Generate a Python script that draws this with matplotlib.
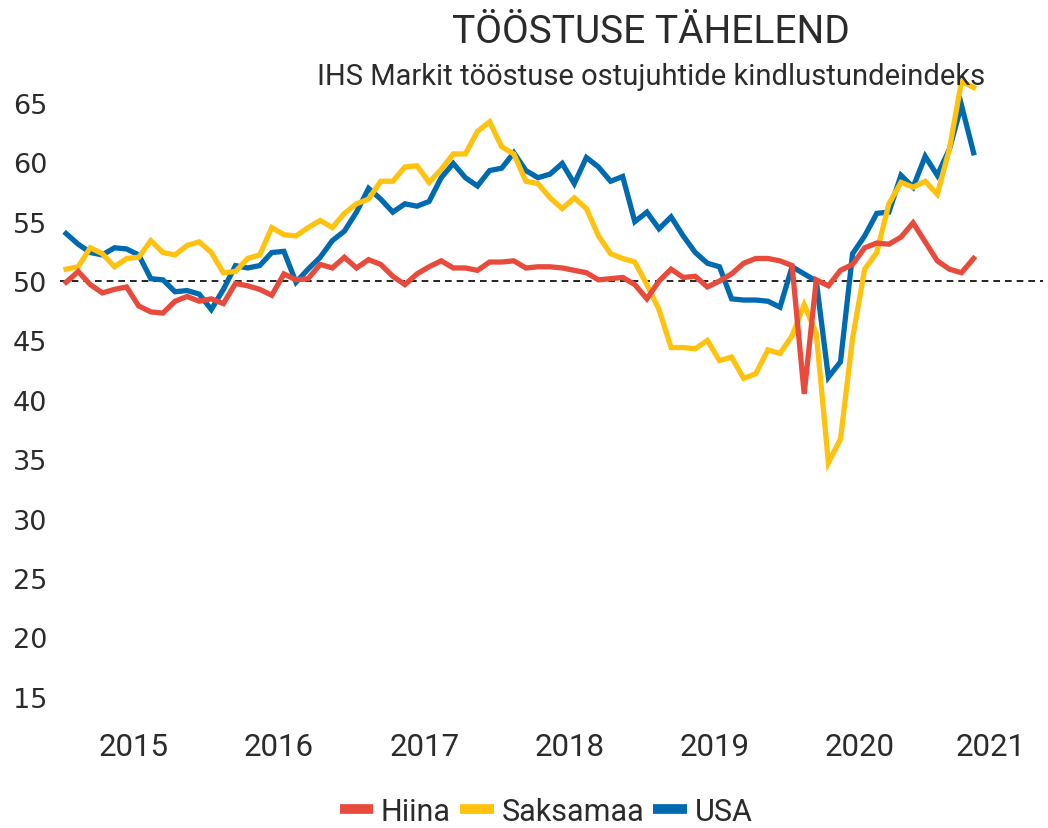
import matplotlib
matplotlib.use("Agg")
import matplotlib.pyplot as plt
from matplotlib.lines import Line2D
import numpy as np
import pandas as pd

# monthly values, Jan 2015 .. Apr 2021
months = pd.period_range("2015-01", "2021-04", freq="M")

hiina = [49.9, 50.8, 49.7, 49.0, 49.3, 49.5, 47.9, 47.4, 47.3, 48.3, 48.7, 48.3,
         48.5, 48.1, 49.8, 49.6, 49.3, 48.8, 50.6, 50.1, 50.2, 51.4, 51.1, 52.0,
         51.1, 51.8, 51.4, 50.4, 49.7, 50.6, 51.2, 51.7, 51.1, 51.1, 50.9, 51.6,
         51.6, 51.7, 51.1, 51.2, 51.2, 51.1, 50.9, 50.7, 50.1, 50.2, 50.3, 49.7,
         48.5, 50.0, 51.0, 50.3, 50.4, 49.5, 50.0, 50.6, 51.5, 51.9, 51.9, 51.7,
         51.3, 40.5, 50.1, 49.6, 50.9, 51.4, 52.8, 53.2, 53.1, 53.7, 54.9, 53.3,
         51.7, 51.0, 50.7, 51.9]

saksamaa = [51.0, 51.2, 52.8, 52.3, 51.2, 51.9, 52.0, 53.4, 52.4, 52.2, 53.0, 53.3,
            52.4, 50.7, 50.8, 51.9, 52.2, 54.5, 53.9, 53.8, 54.5, 55.1, 54.5, 55.7,
            56.5, 56.9, 58.4, 58.4, 59.6, 59.7, 58.3, 59.4, 60.7, 60.7, 62.6, 63.4,
            61.3, 60.7, 58.4, 58.2, 57.0, 56.1, 57.0, 56.1, 53.8, 52.3, 51.9, 51.6,
            49.7, 47.6, 44.4, 44.4, 44.3, 45.0, 43.3, 43.6, 41.8, 42.2, 44.2, 43.9,
            45.4, 48.0, 45.6, 34.7, 36.7, 45.2, 51.0, 52.4, 56.5, 58.3, 57.9, 58.4,
            57.3, 61.1, 66.8, 66.3]

usa = [54.0, 53.1, 52.4, 52.2, 52.8, 52.7, 52.2, 50.2, 50.1, 49.1, 49.2, 48.9,
       47.6, 49.3, 51.3, 51.1, 51.3, 52.4, 52.5, 49.9, 51.0, 52.0, 53.4, 54.2,
       55.8, 57.8, 56.9, 55.8, 56.5, 56.3, 56.7, 58.7, 59.9, 58.7, 58.0, 59.3,
       59.5, 60.8, 59.3, 58.7, 59.0, 59.9, 58.2, 60.4, 59.6, 58.4, 58.8, 55.0,
       55.8, 54.4, 55.4, 53.8, 52.4, 51.5, 51.2, 48.5, 48.4, 48.4, 48.3, 47.8,
       51.2, 50.6, 50.0, 41.9, 43.2, 52.3, 53.8, 55.7, 55.8, 58.9, 57.9, 60.5,
       58.9, 61.1, 64.8, 60.8]

years = [2015, 2016, 2017, 2018, 2019, 2020, 2021]
yticks = [15, 20, 25, 30, 35, 40, 45, 50, 55, 60, 65]

RED = "#E84A3C"
YELLOW = "#FFC20E"
BLUE = "#006AB0"
TXT = "#2b2b2b"
font = ["Roboto", "DejaVu Sans"]

x = np.arange(len(months))

fig = plt.figure(figsize=(10.48, 8.29), dpi=100)
ax = fig.add_axes([0.0573, 0.1153, 0.9375, 0.8024])

ax.plot(x, usa, color=BLUE, lw=3.8, zorder=3, solid_joinstyle="miter")
ax.plot(x, saksamaa, color=YELLOW, lw=3.8, zorder=4, solid_joinstyle="miter")
ax.plot(x, hiina, color=RED, lw=3.8, zorder=5, solid_joinstyle="miter")
ax.axhline(50, color="black", lw=1.2, ls=(0, (4, 3)), zorder=2)

ax.set_xlim(-0.5, 80.7)
ax.set_ylim(12, 68)

ax.set_yticks(yticks)
ax.set_yticklabels([str(v) for v in yticks], fontsize=19.5, color=TXT,
                   family="DejaVu Sans")
ax.tick_params(axis="y", length=0, pad=9)

xpos = [(y - years[0]) * 12 + 5.6 for y in years[:-1]]
xpos.append(76.4)
ax.set_xticks(xpos)
ax.set_xticklabels([str(y) for y in years], fontsize=22.5, color=TXT, family=font)
ax.tick_params(axis="x", length=0, pad=0)

for s in ax.spines.values():
    s.set_visible(False)

fig.text(0.621, 0.961, "TÖÖSTUSE TÄHELEND", ha="center", va="center",
         fontsize=28, color=TXT, family=font)
fig.text(0.621, 0.907, "IHS Markit tööstuse ostujuhtide kindlustundeindeks",
         ha="center", va="center", fontsize=21, color=TXT, family=font)

handles = [Line2D([], [], color=RED, lw=7, solid_capstyle="butt"),
           Line2D([], [], color=YELLOW, lw=7, solid_capstyle="butt"),
           Line2D([], [], color=BLUE, lw=7, solid_capstyle="butt")]
fig.legend(handles, ["Hiina", "Saksamaa", "USA"], loc="center",
           bbox_to_anchor=(0.521, 0.02), ncol=3, frameon=False,
           handlelength=1.1, handletextpad=0.25, columnspacing=0.3,
           prop={"family": font, "size": 22}, labelcolor=TXT)

fig.savefig("out.png", dpi=100)
